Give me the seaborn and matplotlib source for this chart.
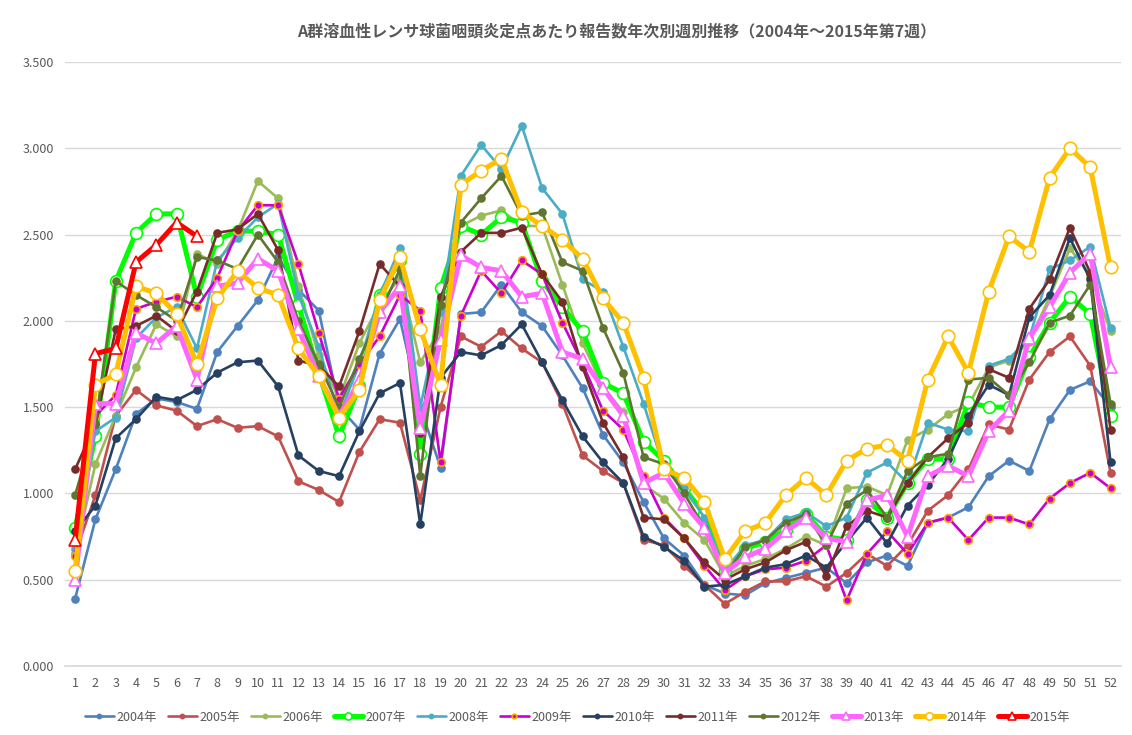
import numpy as np
import pandas as pd
import matplotlib
matplotlib.use("Agg")
import matplotlib.pyplot as plt
import seaborn as sns

# weekly reports per sentinel site
weeks = list(range(1, 53))

y2004 = [0.39, 0.85, 1.14, 1.46, 1.55, 1.53, 1.49, 1.82, 1.97, 2.12, 2.37, 2.18, 2.06,
         1.50, 1.37, 1.81, 2.01, 1.50, 1.15, 2.04, 2.05, 2.21, 2.05, 1.97, 1.80, 1.61,
         1.34, 1.18, 0.95, 0.74, 0.64, 0.47, 0.42, 0.41, 0.48, 0.51, 0.54, 0.57, 0.48,
         0.60, 0.64, 0.58, 0.83, 0.86, 0.92, 1.10, 1.19, 1.13, 1.43, 1.60, 1.65, 1.50]
y2005 = [0.65, 0.99, 1.45, 1.60, 1.51, 1.48, 1.39, 1.43, 1.38, 1.39, 1.33, 1.07, 1.02,
         0.95, 1.24, 1.43, 1.41, 0.96, 1.50, 1.91, 1.85, 1.94, 1.84, 1.76, 1.52, 1.22,
         1.13, 1.06, 0.73, 0.70, 0.58, 0.47, 0.36, 0.43, 0.49, 0.49, 0.52, 0.46, 0.54,
         0.65, 0.58, 0.70, 0.90, 0.99, 1.14, 1.40, 1.37, 1.66, 1.82, 1.91, 1.74, 1.12]
y2006 = [0.65, 1.17, 1.45, 1.73, 1.98, 1.91, 2.39, 2.33, 2.52, 2.81, 2.71, 2.20, 1.80,
         1.55, 1.87, 2.10, 2.25, 1.76, 1.95, 2.55, 2.61, 2.64, 2.55, 2.55, 2.21, 1.87,
         1.62, 1.47, 1.05, 0.97, 0.83, 0.73, 0.52, 0.58, 0.62, 0.68, 0.75, 0.70, 1.03,
         1.04, 0.99, 1.31, 1.37, 1.46, 1.51, 1.73, 1.77, 1.88, 2.14, 2.42, 2.26, 1.94]
y2007 = [0.80, 1.33, 2.23, 2.51, 2.62, 2.62, 2.14, 2.47, 2.52, 2.52, 2.50, 2.09, 1.70,
         1.33, 1.62, 2.15, 2.35, 1.23, 2.19, 2.55, 2.50, 2.60, 2.57, 2.23, 2.08, 1.94,
         1.64, 1.58, 1.30, 1.19, 1.03, 0.88, 0.55, 0.68, 0.72, 0.79, 0.88, 0.75, 0.73,
         0.96, 0.86, 1.06, 1.20, 1.20, 1.53, 1.50, 1.50, 1.79, 1.99, 2.14, 2.04, 1.45]
y2008 = [0.68, 1.36, 1.44, 1.90, 2.02, 2.08, 1.84, 2.35, 2.48, 2.60, 2.68, 2.15, 1.85,
         1.45, 1.75, 2.15, 2.42, 1.50, 2.05, 2.84, 3.02, 2.88, 3.13, 2.77, 2.62, 2.24,
         2.17, 1.85, 1.52, 1.15, 1.03, 0.86, 0.55, 0.70, 0.73, 0.85, 0.89, 0.81, 0.86,
         1.12, 1.18, 1.06, 1.41, 1.37, 1.36, 1.74, 1.78, 1.90, 2.30, 2.35, 2.43, 1.96]
y2009 = [0.64, 1.45, 1.57, 2.07, 2.11, 2.14, 2.08, 2.25, 2.52, 2.67, 2.67, 2.33, 1.93,
         1.55, 1.75, 1.91, 2.15, 2.06, 1.18, 2.03, 2.29, 2.16, 2.35, 2.27, 1.99, 1.75,
         1.48, 1.37, 1.10, 0.86, 0.74, 0.58, 0.44, 0.52, 0.56, 0.57, 0.61, 0.70, 0.38,
         0.65, 0.78, 0.65, 0.83, 0.86, 0.73, 0.86, 0.86, 0.82, 0.97, 1.06, 1.12, 1.03]
y2010 = [0.78, 0.93, 1.32, 1.43, 1.56, 1.54, 1.60, 1.70, 1.76, 1.77, 1.62, 1.22, 1.13,
         1.10, 1.36, 1.58, 1.64, 0.82, 1.67, 1.82, 1.80, 1.86, 1.98, 1.76, 1.54, 1.33,
         1.18, 1.06, 0.75, 0.69, 0.61, 0.46, 0.47, 0.52, 0.57, 0.59, 0.64, 0.57, 0.72,
         0.86, 0.71, 0.93, 1.05, 1.20, 1.45, 1.63, 1.57, 2.02, 2.15, 2.48, 2.24, 1.18]
y2011 = [1.14, 1.40, 1.95, 1.97, 2.03, 1.94, 2.17, 2.51, 2.53, 2.62, 2.41, 1.77, 1.74,
         1.62, 1.94, 2.33, 2.20, 1.35, 2.14, 2.40, 2.51, 2.51, 2.54, 2.27, 2.11, 1.73,
         1.41, 1.21, 0.86, 0.85, 0.74, 0.60, 0.50, 0.56, 0.60, 0.67, 0.72, 0.52, 0.81,
         0.90, 0.86, 1.06, 1.21, 1.32, 1.41, 1.72, 1.67, 2.07, 2.24, 2.54, 2.28, 1.37]
y2012 = [0.99, 1.40, 2.23, 2.15, 2.08, 2.00, 2.37, 2.35, 2.30, 2.50, 2.34, 2.00, 1.75,
         1.50, 1.78, 2.04, 2.30, 1.10, 2.09, 2.57, 2.71, 2.84, 2.61, 2.63, 2.34, 2.29,
         1.96, 1.70, 1.21, 1.17, 1.00, 0.80, 0.52, 0.69, 0.73, 0.83, 0.88, 0.70, 0.94,
         1.02, 0.86, 1.13, 1.21, 1.23, 1.66, 1.67, 1.57, 1.76, 1.99, 2.03, 2.21, 1.52]
y2013 = [0.50, 1.52, 1.52, 1.93, 1.87, 1.97, 1.66, 2.20, 2.22, 2.36, 2.29, 1.95, 1.68,
         1.45, 1.65, 2.05, 2.20, 1.38, 1.89, 2.38, 2.31, 2.29, 2.14, 2.16, 1.82, 1.78,
         1.61, 1.45, 1.06, 1.12, 0.94, 0.80, 0.54, 0.63, 0.68, 0.78, 0.86, 0.74, 0.72,
         0.96, 0.99, 0.75, 1.10, 1.16, 1.10, 1.36, 1.48, 1.90, 2.08, 2.28, 2.39, 1.73]
y2014 = [0.55, 1.63, 1.69, 2.20, 2.16, 2.04, 1.75, 2.13, 2.29, 2.19, 2.15, 1.84, 1.68,
         1.44, 1.60, 2.12, 2.37, 1.95, 1.63, 2.79, 2.87, 2.94, 2.63, 2.55, 2.47, 2.36,
         2.13, 1.99, 1.67, 1.14, 1.09, 0.95, 0.62, 0.78, 0.83, 0.99, 1.09, 0.99, 1.19,
         1.26, 1.28, 1.19, 1.66, 1.91, 1.70, 2.17, 2.49, 2.40, 2.83, 3.00, 2.89, 2.31]
y2015 = [0.73, 1.81, 1.84, 2.34, 2.44, 2.57, 2.49]

years = ["2004年", "2005年", "2006年", "2007年", "2008年", "2009年",
         "2010年", "2011年", "2012年", "2013年", "2014年", "2015年"]
values = [y2004, y2005, y2006, y2007, y2008, y2009,
          y2010, y2011, y2012, y2013, y2014, y2015]

# line colour, line width, marker, marker size, marker face, marker edge
styles = {
    "2004年": ("#4F81BD", 1.9, "o", 5, "#4F81BD", "#4F81BD"),
    "2005年": ("#C0504D", 1.9, "o", 5, "#C0504D", "#C0504D"),
    "2006年": ("#9BBB59", 1.9, "o", 5, "#9BBB59", "#9BBB59"),
    "2007年": ("#00FF00", 3.6, "o", 8.5, "white", "#00FF00"),
    "2008年": ("#4BACC6", 1.9, "o", 5, "#4BACC6", "#4BACC6"),
    "2009年": ("#CC00CC", 1.9, "o", 5.5, "#CC00CC", "#FFA500"),
    "2010年": ("#254061", 1.9, "o", 5, "#254061", "#254061"),
    "2011年": ("#772C2A", 1.9, "o", 5, "#772C2A", "#772C2A"),
    "2012年": ("#5F7530", 1.9, "o", 5, "#5F7530", "#5F7530"),
    "2013年": ("#FF66FF", 3.6, "^", 9, "white", "#FF66FF"),
    "2014年": ("#FFC000", 3.6, "o", 9, "white", "#FFC000"),
    "2015年": ("#FF0000", 3.6, "^", 9, "white", "#FF0000"),
}

sns.set_theme(style="white")
plt.rcParams['font.family'] = ['Noto Sans CJK JP', 'DejaVu Sans']

fig = plt.figure(figsize=(11.32, 7.35), dpi=100)
ax = fig.add_axes([0.0574, 0.0939, 0.9326, 0.8217])

for name, vals in zip(years, values):
    df = pd.DataFrame({"week": weeks[:len(vals)], "value": vals})
    col, lw, mk, ms, mfc, mec = styles[name]
    sns.lineplot(data=df, x="week", y="value", ax=ax, color=col, linewidth=lw,
                 marker=mk, markersize=ms, markerfacecolor=mfc,
                 markeredgecolor=mec, markeredgewidth=1.2, label=name)

ax.set_xlim(0.5, 52.5)
ax.set_ylim(0, 3.5)
ax.set_xticks(weeks)
ax.set_xticklabels([str(w) for w in weeks])
ax.set_yticks(np.arange(0, 3.51, 0.5))
ax.yaxis.set_major_formatter(matplotlib.ticker.FormatStrFormatter('%.3f'))
ax.tick_params(axis='both', labelsize=9, colors="#595959", length=0, pad=8)
ax.grid(axis='y', color="#D9D9D9", linewidth=1)
ax.set_axisbelow(True)
ax.set_xlabel("")
ax.set_ylabel("")
for side in ["top", "right", "left"]:
    ax.spines[side].set_visible(False)
ax.spines["bottom"].set_color("#D9D9D9")

fig.text(0.545, 0.958,
         "A群溶血性レンサ球菌咽頭炎定点あたり報告数年次別週別推移（2004年～2015年第7週）",
         ha="center", va="center", fontsize=11.5, fontweight="bold", color="#595959")

handles, labels = ax.get_legend_handles_labels()
if ax.get_legend() is not None:
    ax.get_legend().remove()
fig.legend(handles, labels, loc="center", bbox_to_anchor=(0.51, 0.024), ncol=12,
           frameon=False, fontsize=9, handlelength=2.3, columnspacing=0.9,
           handletextpad=0.2, markerscale=0.6, labelcolor="#595959")

fig.savefig("out.png", dpi=100)
